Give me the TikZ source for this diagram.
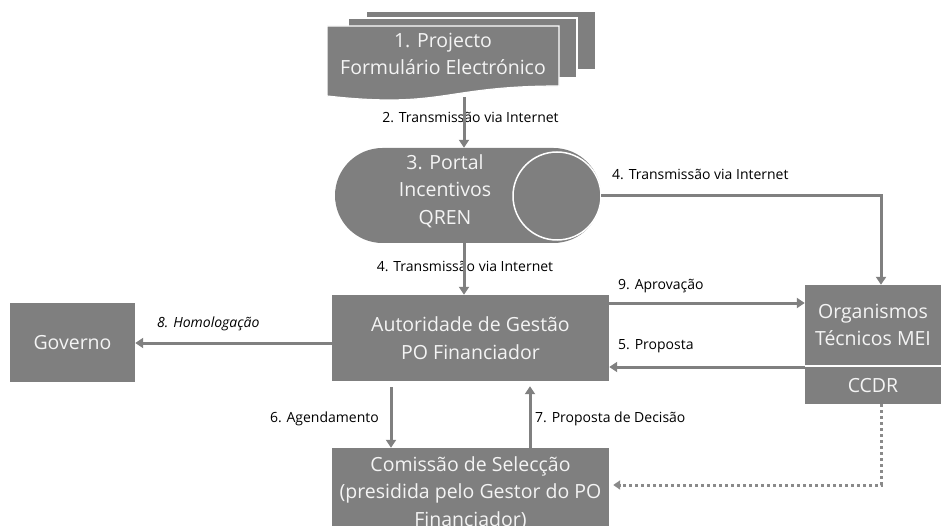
\documentclass[tikz,border=0pt]{standalone}
\usepackage{fontspec}
\setmainfont{Open Sans}
\usetikzlibrary{arrows.meta,shapes.misc}
\definecolor{gfill}{HTML}{7F7F7F}
\definecolor{garrow}{HTML}{808080}
\definecolor{gdot}{HTML}{8A8A8A}
\definecolor{gtext}{HTML}{F4F4F4}
\begin{document}
\begin{tikzpicture}[x=1pt,y=-1pt,
  boxtext/.style={inner sep=0pt, text=gtext, align=center, font=\fontsize{19.5}{27.5}\selectfont},
  box/.style={boxtext, rectangle, fill=gfill, draw=none},
  conn/.style={draw=garrow, line width=3pt, -{Triangle[length=8pt,width=10pt]}},
  dotconn/.style={draw=gdot, line width=3pt, dash pattern=on 3pt off 3pt, -{Triangle[length=7pt,width=9pt]}},
  lbl/.style={inner sep=0pt, font=\fontsize{14}{16}\selectfont, text=black},
  sheet/.style={fill=gfill, draw=white, line width=1.2pt}]
\useasboundingbox (0,0) rectangle (941,526);

% document stack
\path[sheet] (366,11) rectangle (596,70);
\path[sheet] (348,18) rectangle (577,78);
\path[sheet] (327,26) -- (559,26) -- (559,86) .. controls (443,86) and (443,109) .. (327,96) -- cycle;
\node[boxtext] (doc) at (443,54) {1. Projecto\\Formulário Electrónico};

% portal
\node[rounded rectangle, fill=gfill, minimum width=266pt, minimum height=95pt, inner sep=0pt] (portal) at (468,195.5) {};
\node[circle, draw=white, line width=1.5pt, minimum size=88pt, inner sep=0pt] (disk) at (557,196) {};
\node[boxtext] (portaltext) at (445,191) {3. Portal\\Incentivos\\QREN};

% boxes
\node[box, minimum width=277pt, minimum height=86pt] (ag) at (470.5,338) {Autoridade de Gestão\\PO Financiador};
\node[box, minimum width=125pt, minimum height=79pt] (gov) at (72.5,342.5) {Governo};
\node[box, minimum width=136pt, minimum height=80pt] (org) at (873,325) {Organismos\\Técnicos MEI};
\node[box, minimum width=136pt, minimum height=37pt] (ccdr) at (873,385.5) {CCDR};
\node[box, minimum width=277pt, minimum height=90pt] (com) at (470.5,493) {Comissão de Selecção\\(presidida pelo Gestor do PO\\Financiador)};

% labels
\node[lbl, anchor=base] (l2) at (470.5,123) {2. Transmissão via Internet};
\node[lbl, anchor=base] (l4a) at (465,272) {4. Transmissão via Internet};
\node[lbl, anchor=base west] (l4b) at (612,180) {4. Transmissão via Internet};
\node[lbl, anchor=base west] (l9) at (618,289) {9. Aprovação};
\node[lbl, anchor=base west] (l5) at (618,349) {5. Proposta};
\node[lbl, anchor=base west, font=\fontsize{14}{16}\selectfont\itshape] (l8) at (157,327) {8. Homologação};
\node[lbl, anchor=base east] (l6) at (379,422) {6. Agendamento};
\node[lbl, anchor=base west] (l7) at (535,422) {7. Proposta de Decisão};

% connectors
\coordinate (a2top) at (464,97);
\coordinate (xa) at (464,0);
\coordinate (xr) at (881,0);
\coordinate (y9) at (0,303);
\coordinate (y5) at (0,367);
\coordinate (y8) at (0,343);
\coordinate (x6) at (391,0);
\coordinate (x7) at (530,0);
\coordinate (yd) at (0,485);
\draw[conn] (a2top) -- (portal.north -| xa);
\draw[conn] (portal.south -| xa) -- (ag.north -| xa);
\draw[conn] (portal.east) -| (org.north -| xr);
\draw[conn] (ag.east |- y9) -- (org.west |- y9);
\draw[conn] (org.west |- y5) -- (ag.east |- y5);
\draw[conn] (ag.west |- y8) -- (gov.east |- y8);
\draw[conn, shorten <=6pt] (ag.south -| x6) -- (com.north -| x6);
\draw[conn, shorten >=5pt] (com.north -| x7) -- (ag.south -| x7);
\draw[dotconn, shorten >=4pt] (ccdr.south -| xr) -- (xr |- yd) -- (com.east |- yd);
\end{tikzpicture}
\end{document}
